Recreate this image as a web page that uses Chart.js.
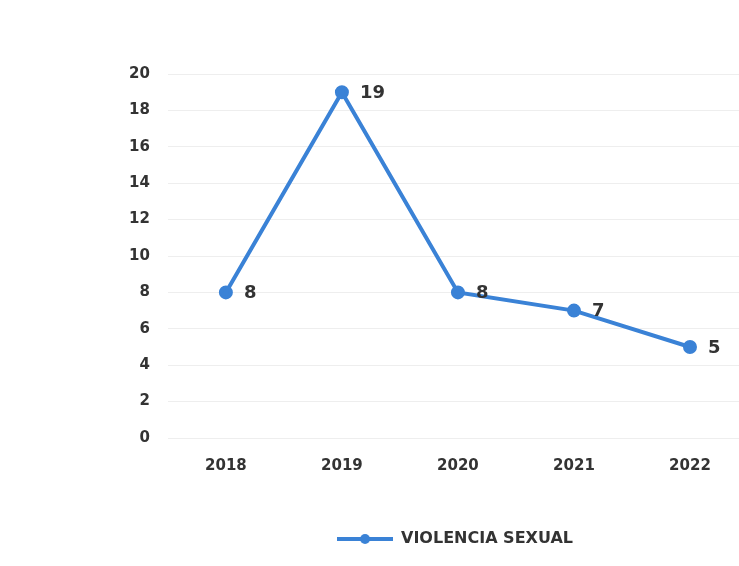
<!DOCTYPE html>
<html><head><meta charset="utf-8">
<script src="https://cdn.jsdelivr.net/npm/chart.js@4"></script>
<style>html,body{margin:0;padding:0;background:#fff;overflow:hidden}#wrap{width:757px;height:566px}</style>
</head><body><div id="wrap"><canvas id="c"></canvas></div>
<script>
const years = ['2018','2019','2020','2021','2022'];
const violenciaSexual = [8, 19, 8, 7, 5];
const yTicks = [0,2,4,6,8,10,12,14,16,18,20];

const blue = '#3a82d6';
const FONT = '"DejaVu Sans", sans-serif';
const icon = document.createElement('canvas');
icon.width = 56; icon.height = 12;
(function(){const g=icon.getContext('2d');g.strokeStyle=blue;g.lineWidth=4;g.beginPath();g.moveTo(0,6);g.lineTo(56,6);g.stroke();g.fillStyle=blue;g.beginPath();g.arc(28,6,5,0,Math.PI*2);g.fill();})();

const labelPlugin = {
  id:'pointLabels',
  afterLayout(chart){
    const lg = chart.legend;
    if (lg) { lg.left += 21; lg.right += 21; }
  },
  afterDatasetsDraw(chart){
    const ctx = chart.ctx;
    const meta = chart.getDatasetMeta(0);
    ctx.save();
    ctx.font = 'bold 18px ' + FONT;
    ctx.fillStyle = '#333';
    ctx.textBaseline = 'middle';
    ctx.textAlign = 'left';
    meta.data.forEach((pt,i)=>{
      ctx.fillText(String(chart.data.datasets[0].data[i]), pt.x + 18, pt.y + 1);
    });
    ctx.restore();
  }
};

new Chart(document.getElementById('c'), {
  type:'line',
  data:{labels:years, datasets:[{label:'VIOLENCIA SEXUAL', data:violenciaSexual, borderColor:blue, backgroundColor:blue, borderWidth:4, pointRadius:5, pointBackgroundColor:blue, pointBorderColor:blue, tension:0}]},
  options:{
    responsive:true, maintainAspectRatio:false, animation:false,
    layout:{padding:{left:111, right:0, top:74, bottom:9}},
    plugins:{
      legend:{position:'bottom', labels:{usePointStyle:true, pointStyle:icon, pointStyleWidth:56, color:'#333', font:{family:FONT, size:16, weight:'bold'}, padding:45}},
      tooltip:{enabled:false}
    },
    scales:{
      x:{offset:true, grid:{display:false}, border:{display:false}, ticks:{color:'#333', padding:11, font:{family:FONT, size:15, weight:'bold'}}},
      y:{min:0, max:20, afterBuildTicks(a){a.ticks = yTicks.map(v=>({value:v}));}, grid:{color:'#eeeeee', drawTicks:false}, border:{display:false}, ticks:{color:'#333', padding:18, font:{family:FONT, size:15, weight:'bold'}}}
    }
  },
  plugins:[labelPlugin]
});
</script></body></html>
